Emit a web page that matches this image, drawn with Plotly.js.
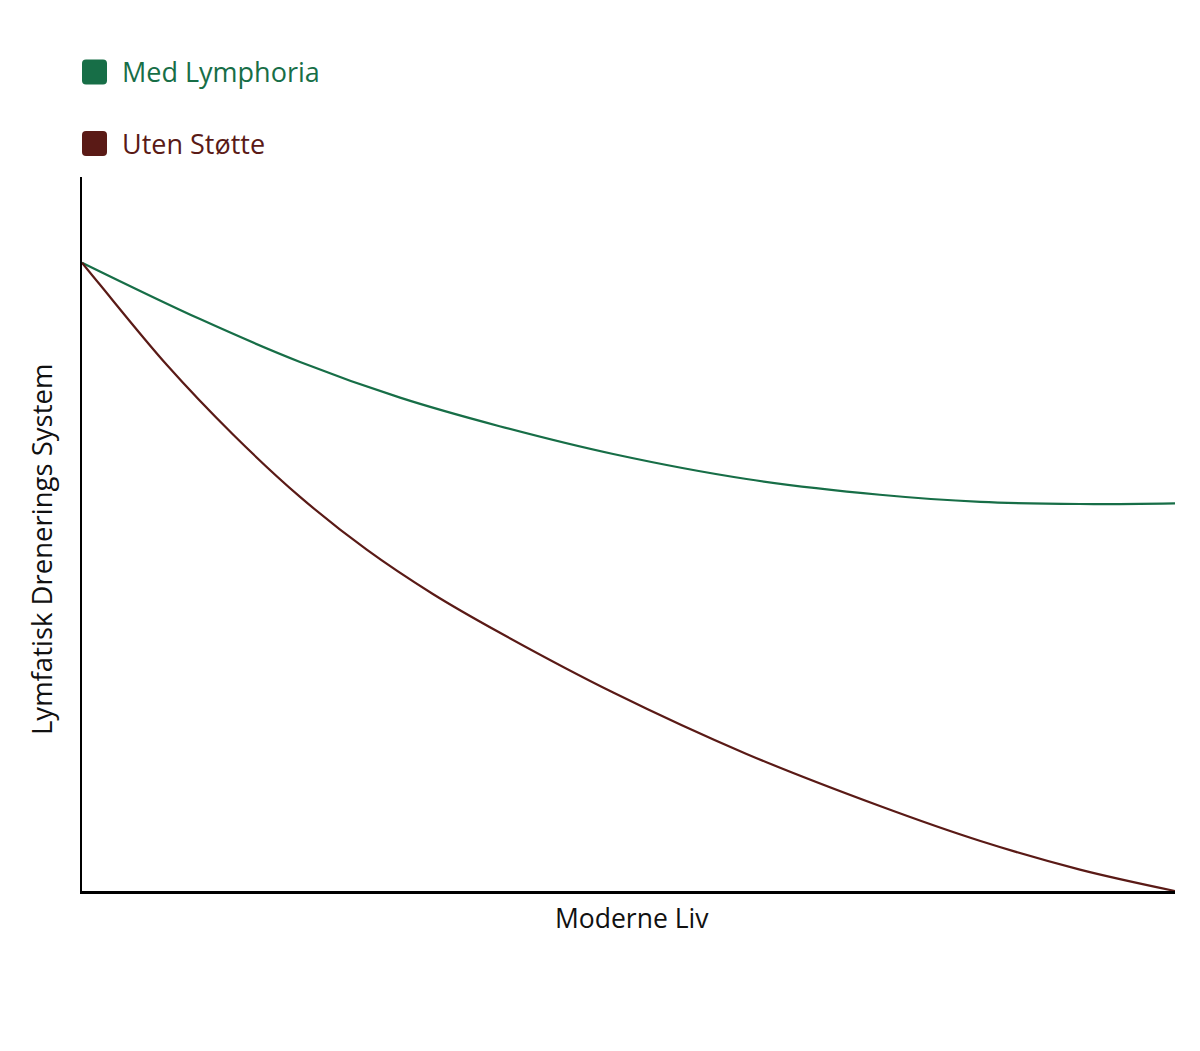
<!DOCTYPE html>
<html>
<head>
<meta charset="utf-8">
<script src="https://cdn.plot.ly/plotly-3.0.1.min.js"></script>
<style>
  html, body { margin: 0; padding: 0; background: #fff; }
  #plot { width: 1200px; height: 1051px; }
</style>
</head>
<body>
<div id="plot"></div>
<script>
// values (x: 0..100 along "Moderne Liv", y: 0..100)
const greenX = [0, 10.8, 19.95, 29.1, 38.2, 48.6, 60.8, 73.0, 82.2, 91.3, 100];
const greenY = [88.0, 80.1, 74.1, 69.1, 65.1, 61.2, 57.7, 55.5, 54.5, 54.2, 54.3];

const redX = [0, 1.65, 7.75, 13.84, 19.95, 26.05, 32.1, 38.2, 48.6, 60.8, 73.0, 82.2, 91.3, 100];
const redY = [88.0, 84.9, 73.7, 63.9, 55.2, 47.8, 41.6, 36.2, 27.8, 19.2, 11.9, 7.0, 3.0, 0];

const seriesNames = ["Med Lymphoria", "Uten Støtte"];
const seriesColors = ["#176e47", "#5a1a16"];
const xTitle = "Moderne Liv";
const yTitle = "Lymfatisk Drenerings System";

const FONT = "Open Sans, Lato, sans-serif";

const traces = [
  {
    x: greenX, y: greenY, mode: "lines", type: "scatter",
    name: seriesNames[0],
    line: { color: seriesColors[0], width: 2.2, shape: "spline", smoothing: 1 },
    hoverinfo: "skip"
  },
  {
    x: redX, y: redY, mode: "lines", type: "scatter",
    name: seriesNames[1],
    line: { color: seriesColors[1], width: 2.2, shape: "spline", smoothing: 1 },
    hoverinfo: "skip"
  }
];

// rounded legend square, pixel sized around an anchor
function roundSquare(yAnchor, color) {
  const h = 12.5, r = 4, s = h - r;
  const path = `M ${-s},${-h} L ${s},${-h} Q ${h},${-h} ${h},${-s} L ${h},${s} Q ${h},${h} ${s},${h} ` +
               `L ${-s},${h} Q ${-h},${h} ${-h},${s} L ${-h},${-s} Q ${-h},${-h} ${-s},${-h} Z`;
  return {
    type: "path", xref: "paper", yref: "paper",
    xsizemode: "pixel", ysizemode: "pixel",
    xanchor: 0.01144, yanchor: yAnchor,
    path: path, fillcolor: color, line: { width: 0 }
  };
}

const layout = {
  width: 1200, height: 1051,
  margin: { l: 82, r: 25, t: 177, b: 160 },
  paper_bgcolor: "#fff", plot_bgcolor: "#fff",
  showlegend: false,
  font: { family: FONT, color: "#111" },
  xaxis: {
    range: [0, 100], showline: true, linecolor: "#000", linewidth: 2.5,
    showgrid: false, zeroline: false, showticklabels: false, ticks: "", fixedrange: true
  },
  yaxis: {
    range: [0, 100], showline: true, linecolor: "#000", linewidth: 2.5,
    showgrid: false, zeroline: false, showticklabels: false, ticks: "", fixedrange: true
  },
  shapes: [
    roundSquare(1.1471, seriesColors[0]),
    roundSquare(1.0469, seriesColors[1])
  ],
  annotations: [
    { text: seriesNames[0], xref: "paper", yref: "paper", x: 0.0348, y: 1.1471,
      xanchor: "left", yanchor: "middle", showarrow: false,
      font: { family: FONT, size: 27, color: seriesColors[0] } },
    { text: seriesNames[1], xref: "paper", yref: "paper", x: 0.0348, y: 1.0469,
      xanchor: "left", yanchor: "middle", showarrow: false,
      font: { family: FONT, size: 27, color: seriesColors[1] } },
    { text: xTitle, xref: "paper", yref: "paper", x: 0.503, y: -0.0378,
      xanchor: "center", yanchor: "middle", showarrow: false,
      font: { family: FONT, size: 26.5, color: "#111" } },
    { text: yTitle, xref: "paper", yref: "paper", x: -0.0366, y: 0.479,
      xanchor: "center", yanchor: "middle", showarrow: false, textangle: -90,
      font: { family: FONT, size: 27.5, color: "#111" } }
  ]
};

Plotly.newPlot("plot", traces, layout, { displayModeBar: false, staticPlot: true });
</script>
</body>
</html>
